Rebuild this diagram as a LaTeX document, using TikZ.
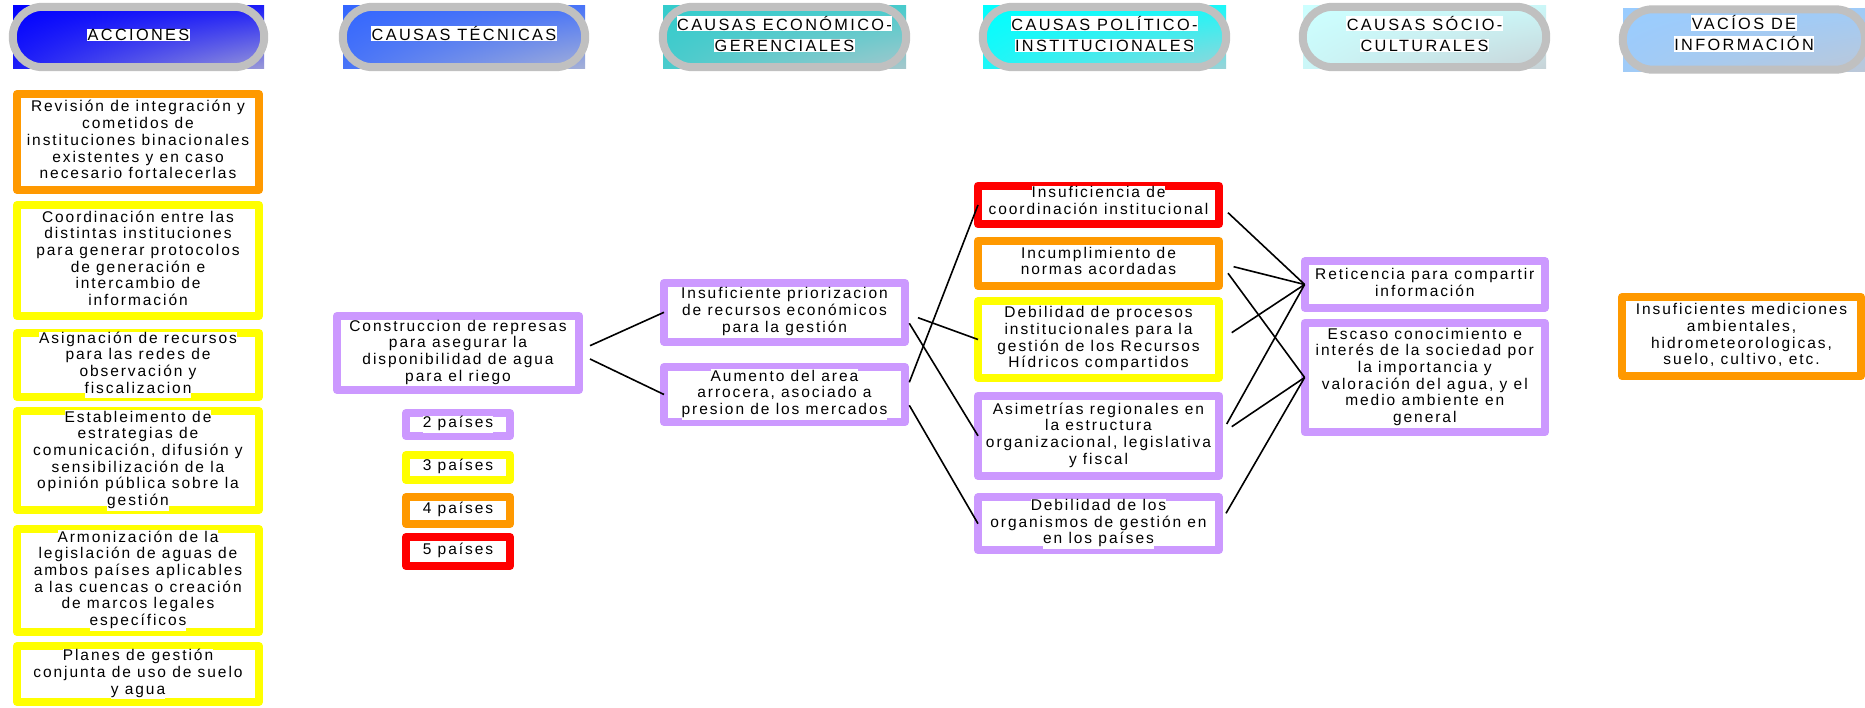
\documentclass[tikz,border=0pt]{standalone}
\usepackage{fontspec}
\setmainfont{Liberation Sans}
\newfontfamily\bodyfont[LetterSpace=12.5]{Liberation Sans}
\newfontfamily\headfont[LetterSpace=14.5]{Liberation Sans}
\usetikzlibrary{shadings}
\definecolor{cblue}{RGB}{0,0,255}
\definecolor{ctec}{RGB}{51,102,255}
\definecolor{ceco}{RGB}{51,204,204}
\definecolor{cpol}{RGB}{0,255,255}
\definecolor{csoc}{RGB}{204,255,255}
\definecolor{cvac}{RGB}{153,204,255}
\definecolor{cfade}{RGB}{198,198,204}
\definecolor{pillgray}{RGB}{192,192,192}
\definecolor{borange}{RGB}{255,153,0}
\definecolor{byellow}{RGB}{255,255,0}
\definecolor{bpurple}{RGB}{204,153,255}
\definecolor{bred}{RGB}{255,0,0}
\newcommand{\bodytext}{\bodyfont\fontsize{15.5}{16.7}\selectfont}
\newcommand{\headtext}{\headfont\fontsize{16.3}{21}\selectfont}
\newcommand{\wbx}[1]{{\fboxsep=0pt\colorbox{white}{\strut #1}}}
\newcommand{\hbx}[1]{{\fboxsep=0.5pt\colorbox{white}{#1}}}
\tikzset{
  hdrfill/.style={upper left=#1, upper right=#1!85!cfade, lower left=#1!85!cfade,
    lower right=#1!22!cfade, inner sep=0pt, minimum height=63pt},
  htx/.style={align=center, inner sep=0pt, font=\headtext, text=black},
  pill/.style={draw=pillgray, line width=8pt, rounded corners=30pt},
  bx/.style={draw=#1, fill=white, line width=8pt, line join=round, inner sep=0pt},
  tx/.style={align=center, inner sep=0pt, font=\bodytext, text=black},
  conn/.style={draw=black, line width=1.6pt},
}
\begin{document}
\begin{tikzpicture}[x=1pt,y=-1pt]
\useasboundingbox (0,0) rectangle (1865,708);
\fill[white] (0,0) rectangle (1865,708);

% ---------- headers ----------
\node[hdrfill=cblue, minimum width=251pt] (h1) at (138.5,37.5) {};
\draw[pill] ([yshift=-1pt]h1.north west) rectangle ([yshift=2pt]h1.south east);
\node[htx] (h1t) at ([yshift=2.6pt]h1.center) {\hbx{ACCIONES}};
\node[hdrfill=ctec, minimum width=242pt] (h2) at (464,37.5) {};
\draw[pill] ([yshift=-1pt]h2.north west) rectangle ([yshift=2pt]h2.south east);
\node[htx] (h2t) at ([yshift=4.2pt]h2.center) {\hbx{CAUSAS TÉCNICAS}};
\node[hdrfill=ceco, minimum width=243pt] (h3) at (784.5,37.5) {};
\draw[pill] ([yshift=-1pt]h3.north west) rectangle ([yshift=2pt]h3.south east);
\node[htx] (h3t) at ([yshift=3.8pt]h3.center) {\hbx{CAUSAS ECONÓMICO-}\\\hbx{GERENCIALES}};
\node[hdrfill=cpol, minimum width=243pt] (h4) at (1104.5,37.5) {};
\draw[pill] ([yshift=-1pt]h4.north west) rectangle ([yshift=2pt]h4.south east);
\node[htx] (h4t) at ([yshift=3.8pt]h4.center) {\hbx{CAUSAS POLÍTICO-}\\\hbx{INSTITUCIONALES}};
\node[hdrfill=csoc, minimum width=243pt] (h5) at (1424.5,37.5) {};
\draw[pill] ([yshift=-1pt]h5.north west) rectangle ([yshift=2pt]h5.south east);
\node[htx] (h5t) at ([yshift=3.8pt]h5.center) {\hbx{CAUSAS SÓCIO-}\\\hbx{CULTURALES}};
\node[hdrfill=cvac, minimum width=242pt] (h6) at (1744,40) {};
\draw[pill] ([yshift=-1pt]h6.north west) rectangle ([yshift=2pt]h6.south east);
\node[htx] (h6t) at ([yshift=6.5pt]h6.center) {\hbx{VACÍOS DE}\\\hbx{INFORMACIÓN}};

% ---------- acciones ----------
\node[bx=borange, minimum width=242pt, minimum height=96pt] (a1) at (138,142) {};
\node[tx] (a1t) at (a1) {\wbx{Revisión de integración y}\\\wbx{cometidos de}\\\wbx{instituciones binacionales}\\\wbx{existentes y en caso}\\\wbx{necesario fortalecerlas}};
\node[bx=byellow, minimum width=242pt, minimum height=111pt] (a2) at (138,260.5) {};
\node[tx] (a2t) at (a2) {\wbx{Coordinación entre las}\\\wbx{distintas instituciones}\\\wbx{para generar protocolos}\\\wbx{de generación e}\\\wbx{intercambio de}\\\wbx{información}};
\node[bx=byellow, minimum width=242pt, minimum height=64pt] (a3) at (138,365) {};
\node[tx] (a3t) at (a3) {\wbx{Asignación de recursos}\\\wbx{para las redes de}\\\wbx{observación y}\\\wbx{fiscalizacion}};
\node[bx=byellow, minimum width=242pt, minimum height=99pt] (a4) at (138,460.5) {};
\node[tx] (a4t) at (a4) {\wbx{Estableimento de}\\\wbx{estrategias de}\\\wbx{comunicación, difusión y}\\\wbx{sensibilización de la}\\\wbx{opinión pública sobre la}\\\wbx{gestión}};
\node[bx=byellow, minimum width=242pt, minimum height=103pt] (a5) at (138,580.5) {};
\node[tx] (a5t) at (a5) {\wbx{Armonización de la}\\\wbx{legislación de aguas de}\\\wbx{ambos países aplicables}\\\wbx{a las cuencas o creación}\\\wbx{de marcos legales}\\\wbx{específicos}};
\node[bx=byellow, minimum width=242pt, minimum height=56pt] (a6) at (138,674) {};
\node[tx] (a6t) at (a6) {\wbx{Planes de gestión}\\\wbx{conjunta de uso de suelo}\\\wbx{y agua}};

% ---------- tecnicas ----------
\node[bx=bpurple, minimum width=242pt, minimum height=74pt] (t1) at (458,353) {};
\node[tx] (t1t) at (t1) {\wbx{Construccion de represas}\\\wbx{para asegurar la}\\\wbx{disponibilidad de agua}\\\wbx{para el riego}};
\node[bx=bpurple, minimum width=104pt, minimum height=23pt] (l2) at (458,424.5) {};
\node[tx] (l2t) at (l2) {\wbx{2 países}};
\node[bx=byellow, minimum width=104pt, minimum height=25pt] (l3) at (458,467.5) {};
\node[tx] (l3t) at (l3) {\wbx{3 países}};
\node[bx=borange, minimum width=104pt, minimum height=27pt] (l4) at (458,510.5) {};
\node[tx] (l4t) at (l4) {\wbx{4 países}};
\node[bx=bred, minimum width=104pt, minimum height=29pt] (l5) at (458,551.5) {};
\node[tx] (l5t) at (l5) {\wbx{5 países}};

% ---------- economico ----------
\node[bx=bpurple, minimum width=241pt, minimum height=58.7pt] (e1) at (784.5,312.3) {};
\node[tx] (e1t) at (e1) {\wbx{Insuficiente priorizacion}\\\wbx{de recursos económicos}\\\wbx{para la gestión}};
\node[bx=bpurple, minimum width=241pt, minimum height=55pt] (e2) at (784.5,394.5) {};
\node[tx] (e2t) at (e2) {\wbx{Aumento del area}\\\wbx{arrocera, asociado a}\\\wbx{presion de los mercados}};

% ---------- politico ----------
\node[bx=bred, minimum width=241pt, minimum height=38.6pt] (p1) at (1098.5,205) {};
\node[tx] (p1t) at ([yshift=2pt]p1.center) {\wbx{Insuficiencia de}\\\wbx{coordinación institucional}};
\node[bx=borange, minimum width=241pt, minimum height=45.3pt] (p2) at (1098.5,263.3) {};
\node[tx] (p2t) at (p2) {\wbx{Incumplimiento de}\\\wbx{normas acordadas}};
\node[bx=byellow, minimum width=241pt, minimum height=76.4pt] (p3) at (1098.5,339.5) {};
\node[tx] (p3t) at (p3) {\wbx{Debilidad de procesos}\\\wbx{institucionales para la}\\\wbx{gestión de los Recursos}\\\wbx{Hídricos compartidos}};
\node[bx=bpurple, minimum width=241pt, minimum height=80.3pt] (p4) at (1098.5,435.8) {};
\node[tx] (p4t) at (p4) {\wbx{Asimetrías regionales en}\\\wbx{la estructura}\\\wbx{organizacional, legislativa}\\\wbx{y fiscal}};
\node[bx=bpurple, minimum width=241pt, minimum height=52.7pt] (p5) at (1098.5,523.7) {};
\node[tx] (p5t) at (p5) {\wbx{Debilidad de los}\\\wbx{organismos de gestión en}\\\wbx{en los países}};

% ---------- socio-cultural ----------
\node[bx=bpurple, minimum width=240.4pt, minimum height=46.4pt] (s1) at (1424.8,284.5) {};
\node[tx] (s1t) at (s1) {\wbx{Reticencia para compartir}\\\wbx{información}};
\node[bx=bpurple, minimum width=240.4pt, minimum height=109pt] (s2) at (1424.8,377.5) {};
\node[tx] (s2t) at (s2) {\wbx{Escaso conocimiento e}\\\wbx{interés de la sociedad por}\\\wbx{la importancia y}\\\wbx{valoración del agua, y el}\\\wbx{medio ambiente en}\\\wbx{general}};

% ---------- vacios ----------
\node[bx=borange, minimum width=239pt, minimum height=79pt] (v1) at (1741.5,336.5) {};
\node[tx] (v1t) at (v1) {\wbx{Insuficientes mediciones}\\\wbx{ambientales,}\\\wbx{hidrometeorologicas,}\\\wbx{suelo, cultivo, etc.}};

% ---------- connectors ----------
\draw[conn] ([xshift=7pt,yshift=7.3pt]t1.east) -- ([xshift=4pt]e1.west);
\draw[conn] ([xshift=7pt,yshift=-6pt]t1.east) -- ([xshift=4pt]e2.west);
\draw[conn] ([xshift=0.3pt,yshift=12.2pt]e2.east) -- ([xshift=4pt]p1.west);
\draw[conn] ([xshift=9pt,yshift=-5.4pt]e1.east) -- ([xshift=4pt]p3.west);
\draw[conn] ([xshift=0.3pt,yshift=-11pt]e1.east) -- ([xshift=4pt]p4.west);
\draw[conn] ([xshift=0.3pt,yshift=-10.8pt]e2.east) -- ([xshift=4pt]p5.west);
\draw[conn] ([xshift=5pt,yshift=-7.7pt]p1.east) -- ([xshift=4pt]s1.west);
\draw[conn] ([xshift=10.6pt,yshift=-3.4pt]p2.east) -- ([xshift=4pt]s1.west);
\draw[conn] ([xshift=5pt,yshift=-10pt]p2.east) -- ([xshift=4pt]s2.west);
\draw[conn] ([xshift=8.7pt,yshift=6.8pt]p3.east) -- ([xshift=4pt]s1.west);
\draw[conn] ([xshift=3.7pt,yshift=11.8pt]p4.east) -- ([xshift=4pt]s1.west);
\draw[conn] ([xshift=8.7pt,yshift=9.1pt]p4.east) -- ([xshift=4pt]s2.west);
\draw[conn] ([xshift=3pt,yshift=10.4pt]p5.east) -- ([xshift=4pt]s2.west);
\end{tikzpicture}
\end{document}
